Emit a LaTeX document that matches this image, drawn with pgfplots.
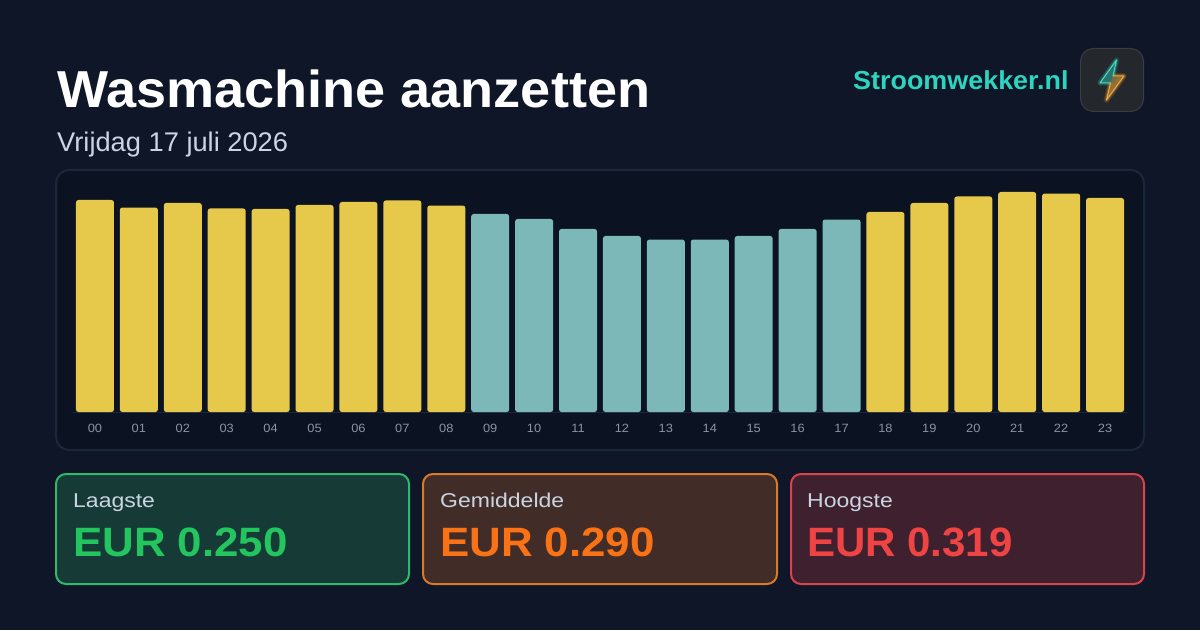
\documentclass[border=0pt]{standalone}
\usepackage{fontspec}
\setmainfont{Liberation Sans}
\newfontfamily\fTitle[FakeStretch=1.04]{Liberation Sans}
\newfontfamily\fSub[FakeStretch=1.01]{Liberation Sans}
\newfontfamily\fLogo[FakeStretch=1.035]{Liberation Sans}
\newfontfamily\fLab[FakeStretch=1.15]{Liberation Sans}
\newfontfamily\fVal[FakeStretch=1.07]{Liberation Sans}
\newfontfamily\fValB[FakeStretch=1.025]{Liberation Sans}
\newfontfamily\fTick[FakeStretch=1.07]{Liberation Sans}
\usepackage{pgfplots}
\usepackage{pgfplotstable}
\pgfplotsset{compat=1.18}
\definecolor{bgA}{HTML}{0E1628}
\definecolor{panel}{HTML}{0B1221}
\definecolor{panelb}{HTML}{1C2738}
\definecolor{bary}{HTML}{E6C84A}
\definecolor{bart}{HTML}{7CB8B8}
\definecolor{tick}{HTML}{8A94A6}
\definecolor{sub}{HTML}{CBD5E1}
\definecolor{logo}{HTML}{2DD4BF}
\definecolor{iconf}{HTML}{24272C}
\definecolor{iconb}{HTML}{3A3E44}
\definecolor{boltO}{HTML}{F5A93B}
\definecolor{gF}{HTML}{163A36}\definecolor{gB}{HTML}{2FB96A}\definecolor{gT}{HTML}{22C55E}
\definecolor{oF}{HTML}{412C28}\definecolor{oB}{HTML}{D97A2B}\definecolor{oT}{HTML}{F97316}
\definecolor{rF}{HTML}{3F202E}\definecolor{rB}{HTML}{D9434D}\definecolor{rT}{HTML}{EF4444}
\pgfplotstableread{
x v
0 0.3074
1 0.2965
2 0.3031
3 0.2951
4 0.2944
5 0.3002
6 0.3045
7 0.3067
8 0.2994
18 0.2900
19 0.3031
20 0.3125
21 0.3190
22 0.3168
23 0.3103
}\yellowbars
\pgfplotstableread{
x v
9 0.2871
10 0.2799
11 0.2654
12 0.2552
13 0.2500
14 0.2501
15 0.2552
16 0.2654
17 0.2791
}\tealbars
\newcommand{\T}[6]{\node[anchor=base west,inner sep=0pt,text=#4] at (#1,{630-#2}) {\fontsize{#3}{#3}\selectfont #5#6};}
\def\boltTop{(1110.5,547) -- (1100,547) -- (1116.5,570) -- (1113,554)}
\def\boltBot{(1113,554) -- (1124,554) -- (1106.5,530) -- (1110.5,547)}
\begin{document}
\begin{tikzpicture}[x=1pt,y=1pt]
\path[use as bounding box] (0,0) rectangle (1200,630);
\fill[bgA] (0,0) rectangle (1200,630);
\draw[panelb,fill=panel,line width=2pt,rounded corners=13pt] (56,630-170) rectangle (1144,630-450);
\begin{axis}[
  at={(73pt,218pt)},anchor=south west,scale only axis,
  width=1054pt,height=240pt,
  xmin=-0.5,xmax=23.5,ymin=0,ymax=0.348,
  axis y line=none,axis x line*=bottom,
  x axis line style={draw=panelb,-},
  xtick={0,...,23},
  xticklabels={00,01,02,03,04,05,06,07,08,09,10,11,12,13,14,15,16,17,18,19,20,21,22,23},
  xtick style={draw=none},
  xticklabel style={text=tick,font=\fontsize{12}{12}\selectfont\fTick},
  x tick label style={yshift=-9pt},
  clip=false,
]
\addplot[ybar,bar width=38pt,bar shift=0pt,fill=bary,draw=none,rounded corners=2.5pt] table[x=x,y=v] {\yellowbars};
\addplot[ybar,bar width=38pt,bar shift=0pt,fill=bart,draw=none,rounded corners=2.5pt] table[x=x,y=v] {\tealbars};
\end{axis}
\T{57}{108}{52}{white}{\fTitle\bfseries}{Wasmachine aanzetten}
\T{57}{152}{27}{sub}{\fSub}{Vrijdag 17 juli 2026}
\T{853}{90}{26}{logo}{\fLogo\bfseries}{Stroomwekker.nl}
% icon
\draw[draw=iconb,fill=iconf,line width=1pt,rounded corners=13pt] (1080.5,630-48.5) rectangle (1143.5,630-111.5);
\foreach \w/\o in {6/.10,4.5/.14,3/.2}{
  \draw[logo,line width=\w pt,line join=round,line cap=round,opacity=\o] \boltTop;
  \draw[boltO,line width=\w pt,line join=round,line cap=round,opacity=\o] \boltBot;
}
\fill[logo!45!iconf] (1110.5,547) -- (1100,547) -- (1116.5,570) -- (1113,554) -- cycle;
\fill[boltO!55!iconf] (1113,554) -- (1124,554) -- (1106.5,530) -- (1110.5,547) -- cycle;
\fill[logo!25!boltO!50!iconf] (1110.5,547) -- (1113,554) -- (1118,554) -- (1114,547) -- cycle;
\draw[logo!85!white,line width=1pt,line join=round,line cap=round] \boltTop;
\draw[boltO,line width=1pt,line join=round,line cap=round] \boltBot;
% cards
\draw[gB,fill=gF,line width=2pt,rounded corners=10pt] (56,630-474) rectangle (409,630-584);
\draw[oB,fill=oF,line width=2pt,rounded corners=10pt] (423,630-474) rectangle (777,630-584);
\draw[rB,fill=rF,line width=2pt,rounded corners=10pt] (791,630-474) rectangle (1144,630-584);
\T{73}{507}{20}{sub}{\fLab}{Laagste}
\T{440}{507}{20}{sub}{\fLab}{Gemiddelde}
\T{807}{507}{20}{sub}{\fLab}{Hoogste}
\T{73}{556}{41}{gT}{\fVal\bfseries}{EUR 0.250}
\T{440}{556}{41}{oT}{\fVal\bfseries}{EUR 0.290}
\T{807}{556}{41}{rT}{\fValB\bfseries}{EUR 0.319}
\end{tikzpicture}
\end{document}
